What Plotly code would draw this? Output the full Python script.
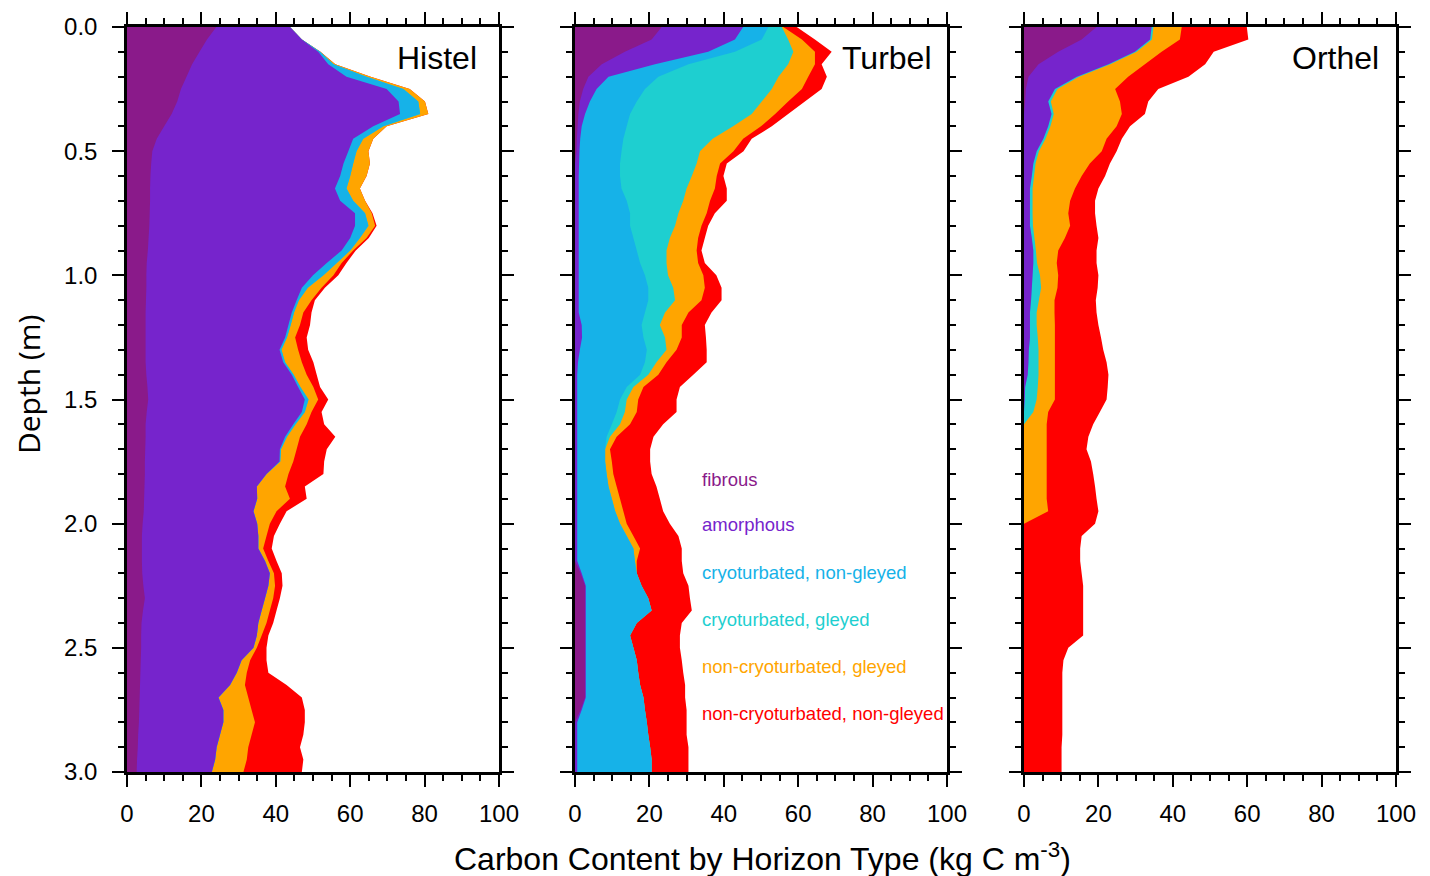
import plotly.graph_objects as go

# ---------------- data (cumulative carbon content, kg C m-3) -------------
DEPTH = [0.0, 0.05, 0.1, 0.15, 0.2, 0.25, 0.3, 0.35, 0.4, 0.45,
         0.5, 0.55, 0.6, 0.65, 0.7, 0.75, 0.8, 0.85, 0.9, 0.95,
         1.0, 1.05, 1.1, 1.15, 1.2, 1.25, 1.3, 1.35, 1.4, 1.45,
         1.5, 1.55, 1.6, 1.65, 1.7, 1.75, 1.8, 1.85, 1.9, 1.95,
         2.0, 2.05, 2.1, 2.15, 2.2, 2.25, 2.3, 2.35, 2.4, 2.45,
         2.5, 2.55, 2.6, 2.65, 2.7, 2.75, 2.8, 2.85, 2.9, 2.95, 3.0]

LAYERS = ["fibrous", "amorphous", "cryoturbated, non-gleyed", "cryoturbated, gleyed",
          "non-cryoturbated, gleyed", "non-cryoturbated, non-gleyed"]
COLORS = ["#8a1a8a", "#7624cc", "#16b2e8", "#1ecfd0", "#ffa500", "#ff0000"]
PANELS = ["Histel", "Turbel", "Orthel"]

# Histel cumulative boundaries
histel_fibrous = [24, 21.5, 19.5, 17.5, 16, 14.5, 13.5, 12, 10, 8,
                  6.8, 6.5, 6.3, 6.2, 6.2, 6.1, 6, 5.8, 5.6, 5.3,
                  5.2, 5.2, 5.1, 5, 5, 5, 5, 5, 5.2, 5.5,
                  5.7, 5.3, 5, 5, 4.9, 4.8, 4.8, 4.7, 4.6, 4.5,
                  4.2, 4, 4, 4, 4.1, 4.4, 4.8, 4.3, 3.9, 3.8,
                  3.8, 3.7, 3.6, 3.5, 3.4, 3.3, 3.2, 3, 2.9, 2.7, 2.6]
histel_amorphous = [43.8, 47, 51.4, 54.1, 59, 69.8, 73, 73.4, 66.2, 60.8,
                    59.5, 58.2, 57.3, 55.9, 57.3, 61.3, 61.3, 60, 57.7, 53.7,
                    50, 47, 45.6, 44.3, 43.4, 42.5, 41, 42, 44.3, 46,
                    47.8, 47, 44.7, 42.5, 41.1, 41, 37.5, 34.9, 35, 34,
                    35, 35.3, 35.3, 37.1, 38.4, 38, 37.1, 36.2, 35.3, 34.9,
                    34, 30.8, 29.5, 27.7, 24.6, 25.9, 25.9, 25, 24.1, 23.7, 22.8]
histel_cryo_ng = [43.8, 47, 51.9, 55.5, 64.4, 74.3, 78.3, 78.8, 68.9, 63.5,
                  61.7, 60.8, 60, 59, 60.8, 64, 64.9, 62.6, 60, 56.4,
                  52.8, 48.6, 46.2, 44.9, 44, 43, 41.5, 42.5, 44.8, 46.6,
                  48.8, 47.8, 45.3, 43, 41.4, 41.2, 37.5, 34.9, 35, 34,
                  35, 35.3, 35.3, 37.1, 38.4, 38, 37.1, 36.2, 35.3, 34.9,
                  34, 30.8, 29.5, 27.7, 24.6, 25.9, 25.9, 25, 24.1, 23.7, 22.8]
histel_cryo_g = [43.8, 47, 51.9, 55.5, 64.4, 74.3, 78.3, 78.8, 68.9, 63.5,
                 61.7, 60.8, 60, 59, 60.8, 64, 64.9, 62.6, 60, 56.4,
                 52.8, 48.6, 46.2, 44.9, 44, 43, 41.5, 42.5, 44.8, 46.6,
                 48.8, 47.8, 45.3, 43, 41.4, 41.2, 37.5, 34.9, 35, 34,
                 35, 35.3, 35.3, 37.1, 38.4, 38, 37.1, 36.2, 35.3, 34.9,
                 34, 30.8, 29.5, 27.7, 24.6, 25.9, 25.9, 25, 24.1, 23.7, 22.8]
histel_noncryo_g = [43.8, 47, 52, 56, 65.5, 76, 80.1, 81, 69.8, 66.2,
                    64.9, 65.3, 64.4, 62.6, 64, 65.8, 66.7, 64.4, 60.8, 57.7,
                    55.5, 52.3, 49.6, 47.4, 46.5, 45.2, 46, 47, 48.3, 50.1,
                    51.4, 49.6, 48.3, 46.5, 45.6, 44.7, 43.4, 42.5, 43.8, 40.2,
                    38.4, 37.5, 36.6, 38, 39.5, 39.8, 39.3, 38.4, 37.5, 36.2,
                    34.9, 33.1, 32.2, 31.7, 32.6, 33.5, 34.4, 33.5, 32.6, 32.2, 31.3]
histel_noncryo_ng = [43.8, 47, 52, 56, 65.5, 76, 80.1, 81, 69.8, 66.2,
                     64.9, 65.3, 64.4, 62.6, 64, 66, 67.1, 65, 61.5, 59,
                     56.8, 53.2, 50.5, 49.6, 49.2, 48.3, 48.7, 50.1, 51, 51.9,
                     54.1, 52.3, 53, 56, 53.7, 53, 52.8, 47.8, 48.3, 42.9,
                     41.1, 39.5, 38.9, 40.2, 41.6, 41.8, 41.1, 40.2, 39.3, 38,
                     37.5, 37.5, 38, 42.9, 47, 47.8, 47.8, 47.4, 46.5, 47.4, 47]

# Turbel cumulative boundaries
turbel_fibrous = [23.3, 20.6, 13.4, 7.2, 3.6, 2.2, 1.3, 0.9, 0.7, 0.5,
                  0.4, 0, 0, 0, 0, 0, 0, 0, 0, 0,
                  0, 0, 0, 0, 0, 0, 0, 0, 0, 0,
                  0, 0, 0, 0, 0, 0, 0, 0, 0, 0,
                  0, 0, 0, 0, 1.5, 2.7, 2.7, 2.7, 2.7, 2.7,
                  2.7, 2.7, 2.7, 2.7, 2.7, 1.5, 0, 0, 0, 0, 0]
turbel_amorphous = [45.2, 43, 35.8, 21.5, 9, 5.8, 4, 2.7, 1.8, 1.4,
                    1.2, 1.1, 1, 1, 1, 1, 1, 1, 1, 1,
                    1, 1, 1, 1, 1.8, 1.9, 1.3, 0.8, 0.6, 0.6,
                    0.6, 0.6, 0.6, 0.6, 0.6, 0.6, 0.6, 0.6, 0.6, 0.6,
                    0.6, 0.6, 0.6, 0.6, 1.8, 2.9, 2.9, 2.9, 2.9, 2.9,
                    2.9, 2.9, 2.9, 2.9, 2.9, 1.8, 0.6, 0.6, 0.6, 0.6, 0.6]
turbel_cryo_ng = [52, 50.2, 43, 30.5, 22.4, 18.8, 16.6, 14.8, 13.9, 13,
                  12.5, 12.1, 12.1, 12.5, 13.9, 14.8, 14.8, 15.7, 16.6, 17.5,
                  18.8, 19.7, 19.7, 18.8, 17.9, 18.4, 19.3, 18.8, 17.5, 13.9,
                  12.1, 11.2, 9.9, 8.5, 8.1, 8.1, 8.5, 9, 9.9, 10.8,
                  12.1, 13.9, 15.7, 16.1, 16.6, 17.9, 19.7, 20.6, 16.6, 14.8,
                  15.7, 16.6, 17, 17.5, 18.4, 18.8, 19.3, 19.7, 20.2, 20.6, 20.6]
turbel_cryo_g = [55.6, 57.3, 58.7, 57.3, 54.7, 52.9, 50.2, 47.5, 42.5, 37,
                 33.6, 32.7, 31.4, 30, 29.1, 27.8, 26.9, 25.5, 24.6, 24.6,
                 25, 26.4, 26.9, 24.2, 22.8, 24.2, 24.6, 21.9, 19.7, 15.7,
                 13.9, 13.4, 12.1, 9.4, 8.1, 8.1, 8.5, 9, 9.9, 10.8,
                 12.1, 13.9, 15.7, 16.1, 16.6, 17.9, 19.7, 20.6, 16.6, 14.8,
                 15.7, 16.6, 17, 17.5, 18.4, 18.8, 19.3, 19.7, 20.2, 20.6, 20.6]
turbel_noncryo_g = [56, 61, 64.5, 64.5, 62.7, 61, 57.3, 53.8, 50, 45.2,
                    42.6, 39, 38.1, 37.6, 36.3, 35.4, 34, 33.1, 32.7, 33.1,
                    34.5, 34.9, 34, 30.5, 28.7, 28.7, 27.3, 24.6, 22.4, 18.4,
                    17, 16.6, 14.8, 11.2, 9.4, 9.9, 10.3, 11.2, 12.1, 13,
                    13.9, 15.7, 17.5, 16.6, 16.6, 17.9, 19.7, 20.6, 16.6, 14.8,
                    15.7, 16.6, 17, 17.5, 18.4, 18.8, 19.3, 19.7, 20.2, 20.6, 20.6]
turbel_noncryo_ng = [59.6, 64.5, 69, 66.3, 67.7, 66.3, 61.8, 57.3, 52.9, 47.5,
                     45.3, 40.8, 39.9, 40.8, 40.8, 37.6, 35.8, 34.9, 34, 34.9,
                     38, 39.4, 39.4, 36.7, 34.9, 35.2, 35.4, 35.4, 31.8, 28.2,
                     27.3, 27.3, 23.7, 21.1, 20.2, 20.2, 20.6, 21.9, 22.8, 23.7,
                     25.5, 27.8, 28.7, 28.7, 29.1, 30.5, 30.9, 31.4, 28.7, 28.2,
                     28.2, 28.7, 29.1, 29.6, 29.6, 30, 30, 30, 30.5, 30.5, 30.5]

# Orthel cumulative boundaries
orthel_fibrous = [19.5, 15.5, 9.2, 3.9, 1.2, 0.5, 0.3, 0, 0, 0,
                  0, 0, 0, 0, 0, 0, 0, 0, 0, 0,
                  0, 0, 0, 0, 0, 0, 0, 0, 0, 0,
                  0, 0, 0, 0, 0, 0, 0, 0, 0, 0,
                  0, 0, 0, 0, 0, 0, 0, 0, 0, 0,
                  0, 0, 0, 0, 0, 0, 0, 0, 0, 0, 0]
orthel_amorphous = [34.3, 33.9, 29.8, 22.7, 14.2, 8.3, 6.5, 7.4, 6.5, 5.2,
                    3.4, 2.5, 2.1, 1.6, 1.6, 1.6, 1.6, 2.1, 2.5, 2.5,
                    2.3, 2.1, 1.9, 1.6, 1.6, 1.6, 1.3, 1.2, 1, 0.3,
                    0.2, 0, 0, 0, 0, 0, 0, 0, 0, 0,
                    0, 0, 0, 0, 0, 0, 0, 0, 0, 0,
                    0, 0, 0, 0, 0, 0, 0, 0, 0, 0, 0]
orthel_cryo_ng = [34.3, 33.9, 29.8, 22.7, 14.2, 8.3, 6.5, 7.4, 6.5, 5.2,
                  3.4, 2.5, 2.1, 1.6, 1.6, 1.6, 1.6, 2.1, 2.5, 2.5,
                  2.3, 2.1, 1.9, 1.6, 1.6, 1.6, 1.3, 1.2, 1, 0.3,
                  0.2, 0, 0, 0, 0, 0, 0, 0, 0, 0,
                  0, 0, 0, 0, 0, 0, 0, 0, 0, 0,
                  0, 0, 0, 0, 0, 0, 0, 0, 0, 0, 0]
orthel_cryo_g = [34.8, 34.4, 30.3, 23.2, 14.8, 9, 7.2, 8, 7.1, 5.8,
                 4, 3.1, 2.7, 2.3, 2.3, 2.3, 2.4, 2.8, 3.2, 3.5,
                 4.3, 4.6, 4, 3.4, 3.4, 3.7, 3.9, 3.9, 3.9, 3.7,
                 3.4, 2.5, 0, 0, 0, 0, 0, 0, 0, 0,
                 0, 0, 0, 0, 0, 0, 0, 0, 0, 0,
                 0, 0, 0, 0, 0, 0, 0, 0, 0, 0, 0]
orthel_noncryo_g = [42.4, 41.9, 37, 32.5, 28, 24.5, 25.8, 26.3, 24.9, 22.2,
                    20.9, 17.7, 15.5, 13.7, 12.4, 11.9, 12.4, 11, 9.2, 8.8,
                    9.2, 9, 8.2, 8.2, 8.3, 8.3, 8.3, 8.3, 8.3, 8.3,
                    8.3, 6.5, 6.1, 6.1, 6.1, 6.1, 6.1, 6.1, 6.1, 6.5,
                    0, 0, 0, 0, 0, 0, 0, 0, 0, 0,
                    0, 0, 0, 0, 0, 0, 0, 0, 0, 0, 0]
orthel_noncryo_ng = [59.9, 60.3, 51, 48.7, 44.2, 36.1, 33.4, 32.5, 28.5, 26.3,
                     24.9, 23.1, 21.8, 20, 19.1, 19.1, 19.5, 20, 19.5, 19.5,
                     20, 19.8, 19.3, 19.5, 20, 20.7, 21.3, 22.2, 22.7, 22.5,
                     22.2, 20.4, 18.6, 17.3, 16.8, 18, 18.6, 19.1, 19.5, 20,
                     19.1, 15.5, 15.1, 15.1, 15.5, 15.9, 15.9, 15.9, 15.9, 15.9,
                     11.9, 10.6, 10.3, 10.3, 10.3, 10.3, 10.3, 10.3, 10.1, 10.1, 10.1]

X_TICKS = [0, 20, 40, 60, 80, 100]
Y_TICKS = [0.0, 0.5, 1.0, 1.5, 2.0, 2.5, 3.0]

PANEL_DATA = [
    [histel_fibrous, histel_amorphous, histel_cryo_ng, histel_cryo_g, histel_noncryo_g, histel_noncryo_ng],
    [turbel_fibrous, turbel_amorphous, turbel_cryo_ng, turbel_cryo_g, turbel_noncryo_g, turbel_noncryo_ng],
    [orthel_fibrous, orthel_amorphous, orthel_cryo_ng, orthel_cryo_g, orthel_noncryo_g, orthel_noncryo_ng],
]

# ---------------- figure ----------------
# page body has an 8px margin, so the figure is placed at (8, 8) in the window
OFF = 8
W, H = 1430 - OFF, 876 - OFF
PX_X = [(127, 499), (575, 947), (1024, 1396)]   # window pixels
PX_Y = (27, 772)
FONT = "Liberation Sans, Arial, Helvetica, sans-serif"


def fx(px):
    return (px - OFF) / W


def fy(py):
    return 1 - (py - OFF) / H


fig = go.Figure()
for p, layers in enumerate(PANEL_DATA):
    ax = "" if p == 0 else str(p + 1)
    # draw outermost (total) first, then inner layers on top
    for i in range(len(layers) - 1, -1, -1):
        fig.add_trace(go.Scatter(
            x=layers[i], y=DEPTH, mode="none", fill="tozerox",
            fillcolor=COLORS[i], name=LAYERS[i], showlegend=False,
            hoverinfo="skip", xaxis="x" + ax, yaxis="y" + ax))

axis_common = dict(
    showline=True, linecolor="black", linewidth=2.5, mirror="ticks",
    ticks="outside", ticklen=12, tickwidth=2.2, tickcolor="black",
    showgrid=False, zeroline=False,
    minor=dict(ticks="outside", ticklen=6, tickwidth=1.5, tickcolor="black", showgrid=False),
    tickfont=dict(family=FONT, size=24, color="black"),
)

layout = dict(
    width=W, height=H, margin=dict(l=0, r=0, t=0, b=0),
    paper_bgcolor="white", plot_bgcolor="white", showlegend=False,
)
for p in range(3):
    ax = "" if p == 0 else str(p + 1)
    x0, x1 = PX_X[p]
    xa = dict(axis_common)
    xa.update(domain=[fx(x0), fx(x1)], range=[0, 100], tickvals=X_TICKS,
              anchor="y" + ax, automargin=False, ticklabelstandoff=6)
    xa["minor"] = dict(axis_common["minor"], dtick=5)
    ya = dict(axis_common)
    ya.update(domain=[fy(PX_Y[1]), fy(PX_Y[0])], range=[3, 0], tickvals=Y_TICKS,
              tickformat=".1f", anchor="x" + ax, showticklabels=(p == 0),
              automargin=False, ticklabelstandoff=10)
    ya["minor"] = dict(axis_common["minor"], dtick=0.1)
    layout["xaxis" + ax] = xa
    layout["yaxis" + ax] = ya

annotations = []
title_px = [437, 887, 1335]
for p, name in enumerate(PANELS):
    annotations.append(dict(x=fx(title_px[p]), y=fy(58), xref="paper", yref="paper",
                            text=name, showarrow=False, xanchor="center", yanchor="middle",
                            font=dict(family=FONT, size=32, color="black")))

legend_y = [479, 524, 572, 619, 666, 713]
for i, lab in enumerate(LAYERS):
    annotations.append(dict(x=fx(700), y=fy(legend_y[i]), xref="paper", yref="paper",
                            text=lab, showarrow=False, xanchor="left", yanchor="middle",
                            font=dict(family=FONT, size=18.5, color=COLORS[i])))

annotations.append(dict(x=fx(762), y=fy(857), xref="paper", yref="paper",
                        text="Carbon Content by Horizon Type (kg C m<sup>-3</sup>)",
                        showarrow=False, xanchor="center", yanchor="middle",
                        font=dict(family=FONT, size=32, color="black")))
annotations.append(dict(x=fx(28), y=fy(385), xref="paper", yref="paper",
                        text="Depth (m)", textangle=-90, showarrow=False,
                        xanchor="center", yanchor="middle", borderpad=0,
                        font=dict(family="Open Sans, sans-serif", size=30, color="black")))
layout["annotations"] = annotations
fig.update_layout(**layout)

fig.write_html("out.html")
